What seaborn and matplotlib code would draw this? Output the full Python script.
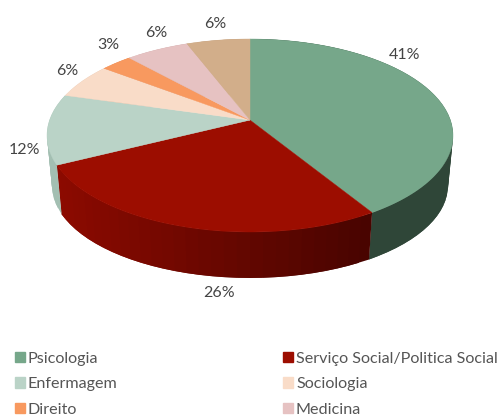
import numpy as np
import matplotlib
matplotlib.use("Agg")
import matplotlib.pyplot as plt
from matplotlib.patches import Patch
import seaborn as sns

categories = ["Psicologia", "Serviço Social/Politica Social", "Enfermagem",
              "Sociologia", "Direito", "Medicina", "Outros"]
counts = [14, 9, 4, 2, 1, 2, 2]
colors = ["#76A78A", "#9C0D00", "#BAD3C7", "#F9DCC8", "#F8995F", "#E6C2C2", "#D2AE8A"]
side_left = ["#2F4638", "#8C0A00", "#A3BFB2", "#D9BFAE", "#D8855A", "#C8A8A8", "#B89878"]
side_right = ["#2F4638", "#3A0300", "#A3BFB2", "#D9BFAE", "#D8855A", "#C8A8A8", "#B89878"]
legend_order = [0, 2, 4, 1, 3, 5]

sns.set_theme(style="white")
plt.rcParams["font.family"] = ["Lato", "DejaVu Sans"]

fig, ax = plt.subplots(figsize=(5.04, 4.17), dpi=100)
ax.set_position([0, 0, 1, 1])
ax.set_xlim(0, 504)
ax.set_ylim(417, 0)
ax.axis("off")

# pie geometry in pixels
CX, TOP_CY, TOP_RX, TOP_RY = 250, 135.5, 203, 96.5
BOT_CY, BOT_RX, BOT_RY = 186, 198, 92
APEX_SHIFT = 0.16


def project(theta):
    """Clockwise angle from 12 o'clock to the unit-circle rim, tilted in perspective."""
    x, y = np.sin(theta), np.cos(theta)
    d = 1 + APEX_SHIFT * y
    return x * np.sqrt(1 - APEX_SHIFT ** 2) / d, (y + APEX_SHIFT) / d


fractions = np.array(counts) / sum(counts)
edges = np.concatenate([[0], np.cumsum(fractions)]) * 2 * np.pi
apex = (CX, TOP_CY - APEX_SHIFT * TOP_RY)


def hex_mix(a, b, f):
    ca, cb = np.array(matplotlib.colors.to_rgb(a)), np.array(matplotlib.colors.to_rgb(b))
    return tuple(ca + (cb - ca) * f)


# side wall: each strip overlaps the next so no seams show
z = 2.0
for i in range(len(counts)):
    th = np.linspace(edges[i], edges[i + 1], max(int(fractions[i] * 120), 4))
    px, py = project(th)
    for j in range(len(th) - 1):
        k = min(j + 2, len(th) - 1)
        xs = [CX + TOP_RX * px[j], CX + TOP_RX * px[k],
              CX + BOT_RX * px[k], CX + BOT_RX * px[j]]
        ys = [TOP_CY - TOP_RY * py[j], TOP_CY - TOP_RY * py[k],
              BOT_CY - BOT_RY * py[k], BOT_CY - BOT_RY * py[j]]
        f = np.clip((CX + 190 - xs[0]) / 380, 0, 1)
        c = hex_mix(side_right[i], side_left[i], f)
        z += 0.001
        ax.fill(xs, ys, color=c, lw=0, zorder=z if py[j] < 0 else 1.5)

# top face
for i in range(len(counts)):
    th = np.linspace(edges[i], edges[i + 1], 120)
    px, py = project(th)
    xs = np.r_[apex[0], CX + TOP_RX * px]
    ys = np.r_[apex[1], TOP_CY - TOP_RY * py]
    ax.fill(xs, ys, color=colors[i], lw=0.3, zorder=4)

# value labels
label_xy = [(405, 55), (219, 293), (24, 150), (67, 71), (108, 45), (156, 33), (215, 24)]
for n, (lx, ly) in zip(counts, label_xy):
    ax.text(lx, ly, f"{n / sum(counts):.0%}", ha="center", va="center",
            fontsize=11.5, color="#444444")

handles = [Patch(color=colors[i]) for i in legend_order]
labels = [categories[i] for i in legend_order]
ax.legend(handles, labels, ncol=2, loc="upper left",
          bbox_to_anchor=(15 / 504, 1 - 352 / 417), frameon=False,
          fontsize=11.6, labelcolor="#555555", handlelength=0.6, handleheight=0.6,
          handletextpad=0.2, labelspacing=0.7, columnspacing=10.27,
          borderpad=0, borderaxespad=0)
fig.savefig("out.png", dpi=100)
